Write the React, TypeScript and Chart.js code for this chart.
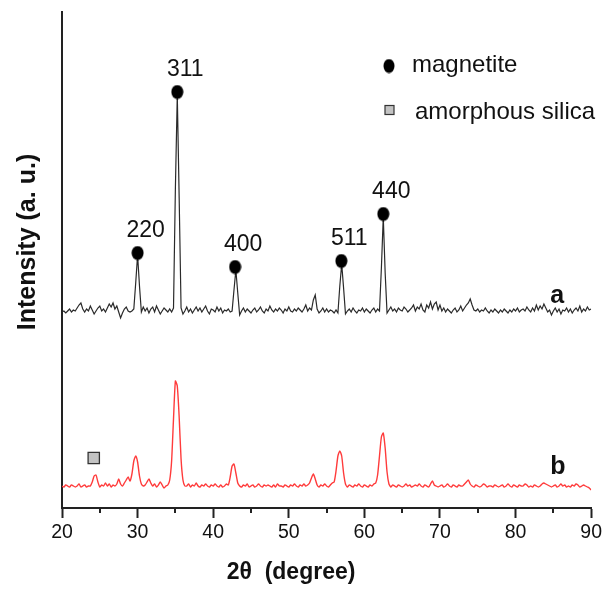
import React, { useEffect, useRef } from "react";
import { Chart, registerables } from "chart.js";

Chart.register(...registerables);

// 2θ grid of the diffractogram (start angle and step, in degrees)
const START_ANGLE = 20;
const STEP_ANGLE = 0.25;

// Sample a (black, upper trace) – intensity in arbitrary units
const intensityA = [
  196, 197, 195, 197,
  199, 196, 198, 197,
  200, 203, 205, 199,
  196, 199, 197, 202,
  198, 194, 197, 200,
  202, 197, 199, 196,
  200, 204, 201, 205,
  199, 202, 196, 190,
  195, 199, 201, 197,
  196, 197, 199, 225,
  253, 222, 196, 201,
  197, 200, 195, 199,
  201, 196, 202, 198,
  194, 197, 200, 198,
  196, 199, 196, 200,
  320, 413, 310, 200,
  194, 197, 201, 196,
  199, 195, 198, 201,
  197, 200, 196, 199,
  202, 197, 194, 199,
  198, 196, 201, 197,
  200, 195, 198, 197,
  199, 196, 197, 218,
  238, 215, 193, 197,
  200, 196, 199, 197,
  195, 198, 200, 196,
  198, 201, 197, 195,
  199, 197, 202, 198,
  196, 199, 197, 200,
  198, 195, 199, 197,
  201, 197, 196, 199,
  197, 200, 198, 196,
  199, 203, 197, 200,
  198, 208, 213, 199,
  195, 197, 200, 196,
  199, 196, 198, 197,
  195, 198, 195, 222,
  244, 220, 194, 197,
  199, 196, 200, 197,
  195, 198, 197, 200,
  196, 199, 197, 195,
  198, 200, 196, 199,
  197, 240, 291, 235,
  195, 198, 201, 197,
  199, 196, 200, 198,
  197, 201, 199, 196,
  198, 200, 203, 197,
  201, 199, 204, 198,
  196, 203, 200, 206,
  199, 204, 206, 198,
  203, 197, 200, 196,
  199, 197, 195, 198,
  200, 196, 198, 202,
  197, 200, 203, 205,
  209, 203, 198, 197,
  199, 196, 198, 197,
  200, 197, 195, 198,
  196, 199, 197, 195,
  198, 196, 199, 197,
  195, 198, 196, 199,
  197, 200, 196, 198,
  199, 197, 201, 198,
  196, 200, 197, 203,
  198, 202, 199, 204,
  200, 196, 198, 193,
  197, 200, 196, 199,
  194, 198, 197, 200,
  196, 199, 195, 198,
  200, 197, 202, 196,
  199, 197, 201, 198,
  199,
];

// Sample b (red, lower trace) – intensity in arbitrary units
const intensityB = [
  22, 21, 23, 22,
  21, 23, 22, 21,
  22, 24, 21, 22,
  23, 21, 22, 22,
  26, 32, 33, 26,
  21, 23, 22, 25,
  22, 24, 21, 23,
  22, 24, 29, 24,
  22, 25, 28, 31,
  27, 34, 47, 52,
  46, 32, 24, 22,
  23, 26, 29, 25,
  22, 24, 21, 23,
  26, 23, 20, 22,
  23, 28, 47, 89,
  127, 122, 91, 49,
  28, 22, 22, 24,
  21, 23, 22, 25,
  22, 21, 23, 22,
  24, 22, 21, 23,
  22, 24, 22, 21,
  23, 21, 22, 24,
  23, 31, 42, 44,
  35, 25, 22, 21,
  23, 22, 24, 21,
  22, 23, 21, 22,
  24, 22, 21, 23,
  22, 23, 22, 21,
  23, 21, 24, 22,
  22, 21, 23, 22,
  21, 23, 22, 24,
  22, 21, 23, 22,
  24, 22, 23, 25,
  30, 34, 29, 23,
  21, 23, 22, 24,
  22, 21, 23, 25,
  26, 37, 52, 57,
  52, 35, 24, 21,
  23, 22, 21, 23,
  22, 24, 22, 21,
  23, 22, 21, 23,
  22, 24, 25, 33,
  52, 71, 75, 60,
  36, 24, 21, 23,
  22, 21, 23, 22,
  21, 22, 24, 22,
  23, 21, 22, 23,
  22, 24, 22, 21,
  23, 22, 21, 24,
  27, 23, 22, 21,
  22, 23, 21, 22,
  24, 22, 21, 23,
  22, 21, 23, 22,
  22, 24, 26, 28,
  24, 22, 21, 23,
  22, 21, 22, 24,
  23, 21, 22, 22,
  21, 23, 22, 21,
  22, 23, 21, 22,
  24, 22, 21, 23,
  22, 21, 23, 22,
  22, 24, 23, 21,
  22, 21, 23, 22,
  21, 22, 24, 25,
  24, 23, 22, 21,
  22, 23, 21, 22,
  24, 22, 23, 21,
  22, 21, 23, 22,
  24, 23, 21, 22,
  23, 22, 21, 20,
  18,
];

const twoTheta = intensityA.map((_, i) => START_ANGLE + i * STEP_ANGLE);

// Magnetite reflections (marker positions on trace a)
const magnetitePeaks = [30.0, 35.25, 42.9, 56.95, 62.5];
const magnetiteMarks = [255, 416, 241, 247, 294];
const hklLabels = ["220", "311", "400", "511", "440"];

// Amorphous silica marker on trace b
const silicaPeaks = [24.2];
const silicaMarks = [50];

// Axis ticks
const majorTicks = [20, 30, 40, 50, 60, 70, 80, 90];
const minorTicks = [25, 35, 45, 55, 65, 75, 85];

const FONT = '"Liberation Sans", Arial, Helvetica, sans-serif';

function makeEllipse(w: number, h: number, color: string) {
  const c = document.createElement("canvas");
  c.width = w;
  c.height = h;
  const g = c.getContext("2d")!;
  g.fillStyle = color;
  g.beginPath();
  g.ellipse(w / 2, h / 2, w / 2 - 0.5, h / 2 - 0.5, 0, 0, Math.PI * 2);
  g.fill();
  return c;
}

export default function App() {
  const ref = useRef<HTMLCanvasElement | null>(null);

  useEffect(() => {
    if (!ref.current) return;
    const ellipse = makeEllipse(13, 15, "#000");
    const legendEllipse = makeEllipse(12, 15, "#000");

    const minorTickPlugin = {
      id: "minorTicks",
      afterDraw(chart: any) {
        const { ctx, scales } = chart;
        const x = scales.x;
        const yb = chart.chartArea.bottom;
        ctx.save();
        ctx.strokeStyle = "#222";
        ctx.lineWidth = 2;
        minorTicks.forEach((v) => {
          const px = Math.round(x.getPixelForValue(v));
          ctx.beginPath();
          ctx.moveTo(px, yb);
          ctx.lineTo(px, yb + 5);
          ctx.stroke();
        });
        ctx.restore();
      },
    };

    const textPlugin = {
      id: "xrdText",
      afterDatasetsDraw(chart: any) {
        const { ctx, scales } = chart;
        const x = scales.x;
        const y = scales.y;
        ctx.save();
        ctx.fillStyle = "#111";
        ctx.textAlign = "center";
        ctx.textBaseline = "alphabetic";

        // hkl labels
        ctx.font = `23px ${FONT}`;
        hklLabels.forEach((t, i) => {
          ctx.fillText(
            t,
            x.getPixelForValue(magnetitePeaks[i]) + 8,
            y.getPixelForValue(magnetiteMarks[i]) - 16.5
          );
        });

        // trace labels
        ctx.font = `bold 25px ${FONT}`;
        ctx.fillText("a", x.getPixelForValue(85.5), y.getPixelForValue(205));
        ctx.fillText("b", x.getPixelForValue(85.6), y.getPixelForValue(34));

        // legend
        ctx.drawImage(legendEllipse, 389 - 6, 66 - 7.5);
        ctx.fillStyle = "#c3c3c3";
        ctx.fillRect(385, 105.5, 9, 9);
        ctx.strokeStyle = "#333";
        ctx.lineWidth = 1.2;
        ctx.strokeRect(385, 105.5, 9, 9);
        ctx.fillStyle = "#111";
        ctx.textAlign = "left";
        ctx.textBaseline = "middle";
        ctx.font = `24px ${FONT}`;
        ctx.fillText("magnetite", 412, 65);
        ctx.fillText("amorphous silica", 415, 112);

        // axis titles
        ctx.textAlign = "center";
        ctx.textBaseline = "alphabetic";
        ctx.font = `bold 23px ${FONT}`;
        ctx.fillText("2\u03B8  (degree)", 291, 579);

        ctx.save();
        ctx.translate(35, 242);
        ctx.rotate(-Math.PI / 2);
        ctx.font = `bold 25px ${FONT}`;
        ctx.fillText("Intensity (a. u.)", 0, 0);
        ctx.restore();

        ctx.restore();
      },
    };

    const chart = new Chart(ref.current, {
      type: "line",
      data: {
        datasets: [
          {
            label: "a",
            data: twoTheta.map((t, i) => ({ x: t, y: intensityA[i] })),
            borderColor: "#2a2a2a",
            borderWidth: 1.2,
            pointRadius: 0,
            tension: 0,
            order: 2,
          },
          {
            label: "b",
            data: twoTheta.map((t, i) => ({ x: t, y: intensityB[i] })),
            borderColor: "#ff3b3b",
            borderWidth: 1.4,
            pointRadius: 0,
            tension: 0.2,
            order: 2,
          },
          {
            label: "magnetite",
            data: magnetitePeaks.map((t, i) => ({ x: t, y: magnetiteMarks[i] })),
            showLine: false,
            pointStyle: ellipse as any,
            pointRadius: 7,
            order: 0,
          },
          {
            label: "amorphous silica",
            data: silicaPeaks.map((t, i) => ({ x: t, y: silicaMarks[i] })),
            showLine: false,
            pointStyle: "rect",
            pointRadius: 8,
            backgroundColor: "#c3c3c3",
            borderColor: "#333",
            borderWidth: 1.3,
            order: 0,
          },
        ],
      },
      options: {
        responsive: false,
        animation: false,
        layout: { padding: { top: 12, right: 11, left: 0, bottom: 0 } },
        plugins: {
          legend: { display: false },
          tooltip: { enabled: false },
        },
        scales: {
          x: {
            type: "linear",
            min: 20,
            max: 90,
            afterFit: (s: any) => {
              s.height = 86;
            },
            afterBuildTicks: (s: any) => {
              s.ticks = majorTicks.map((v) => ({ value: v }));
            },
            ticks: {
              font: { size: 19.5, family: FONT },
              color: "#111",
              padding: 3,
              maxRotation: 0,
              autoSkip: false,
            },
            grid: {
              display: true,
              drawOnChartArea: false,
              drawTicks: true,
              tickLength: 10,
              tickWidth: 2,
              tickColor: "#222",
            },
            border: { display: true, color: "#222", width: 2 },
          },
          y: {
            type: "linear",
            min: 0,
            max: 496,
            afterFit: (s: any) => {
              s.width = 62;
            },
            ticks: { display: false },
            grid: { display: false },
            border: { display: true, color: "#222", width: 2 },
          },
        },
      },
      plugins: [minorTickPlugin, textPlugin],
    });

    return () => chart.destroy();
  }, []);

  return (
    <div style={{ position: "fixed", left: 0, top: 0, width: 605, height: 594, background: "#fff" }}>
      <canvas ref={ref} width={605} height={594} />
    </div>
  );
}
